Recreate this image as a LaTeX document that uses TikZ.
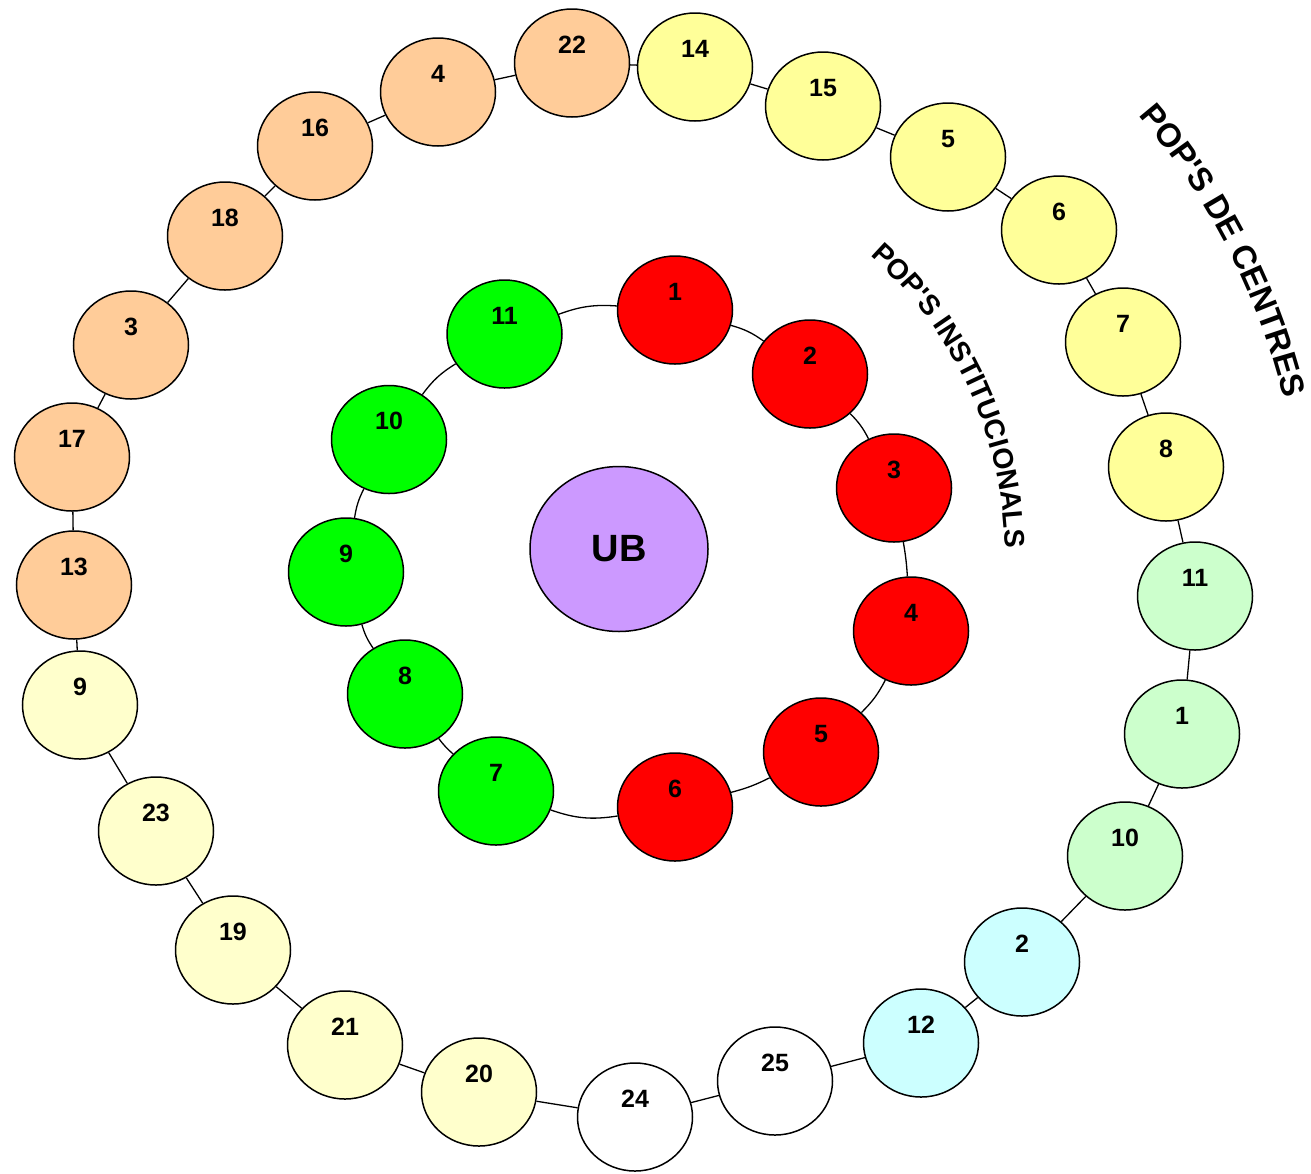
\documentclass[tikz,border=0pt]{standalone}
\usepackage{fontspec}
\setmainfont{Liberation Sans}[Ligatures=TeXOff]
\usetikzlibrary{shapes.geometric,decorations.text}
\definecolor{peach}{HTML}{FFCC99}
\definecolor{popyellow}{HTML}{FFFF99}
\definecolor{paleyellow}{HTML}{FFFFCC}
\definecolor{lightgreen}{HTML}{CCFFCC}
\definecolor{lightcyan}{HTML}{CCFFFF}
\definecolor{popred}{HTML}{FF0000}
\definecolor{popgreen}{HTML}{00FF00}
\definecolor{purple}{HTML}{CC99FF}
\begin{document}
\begin{tikzpicture}[x=1pt,y=1pt,
  pop/.style={ellipse, draw=black, line width=1.5pt, minimum width=115pt, minimum height=108pt,
    inner sep=0pt, font=\bfseries\fontsize{25}{30}\selectfont, text height=18pt, text depth=38pt},
  link/.style={line width=1.3pt},
  ubnode/.style={ellipse, draw=black, line width=1.5pt, fill=purple, minimum width=178pt,
    minimum height=165pt, inner sep=0pt, font=\bfseries\fontsize{38}{44}\selectfont}]
\useasboundingbox (0,0) rectangle (1311,-1173);

% centre
\node[ubnode] (ub) at (619,-549) {UB};

% inner ring
\node[pop, fill=popred] (i1) at (675,-310) {1};
\node[pop, fill=popred] (i2) at (810,-374) {2};
\node[pop, fill=popred] (i3) at (894,-488) {3};
\node[pop, fill=popred] (i4) at (911,-631) {4};
\node[pop, fill=popred] (i5) at (821,-752) {5};
\node[pop, fill=popred] (i6) at (675,-807) {6};
\node[pop, fill=popgreen] (i7) at (496,-791) {7};
\node[pop, fill=popgreen] (i8) at (405,-694) {8};
\node[pop, fill=popgreen] (i9) at (346,-572) {9};
\node[pop, fill=popgreen] (i10) at (389,-439.5) {10};
\node[pop, fill=popgreen] (i11) at (504.5,-334) {11};

\draw[link] (i1) to[bend left=10] (i2);
\draw[link] (i2) to[bend left=9] (i3);
\draw[link] (i3) to[bend left=3] (i4);
\draw[link] (i4) to[bend left=9] (i5);
\draw[link] (i5) to[bend left=6] (i6);
\draw[link] (i6) to[bend left=14] (i7);
\draw[link] (i7) to[bend left=6] (i8);
\draw[link] (i8) to[bend left=9] (i9);
\draw[link] (i9) to[bend left=9] (i10);
\draw[link] (i10) to[bend left=11] (i11);
\draw[link] (i11) to[bend left=12] (i1);

% outer ring
\node[pop, fill=peach] (o22) at (572,-63) {22};
\node[pop, fill=popyellow] (o14) at (695,-67) {14};
\node[pop, fill=popyellow] (o15) at (823,-106) {15};
\node[pop, fill=popyellow] (o5) at (948,-157) {5};
\node[pop, fill=popyellow] (o6) at (1059,-230) {6};
\node[pop, fill=popyellow] (o7) at (1123,-342) {7};
\node[pop, fill=popyellow] (o8) at (1166,-467) {8};
\node[pop, fill=lightgreen] (o11) at (1195,-596) {11};
\node[pop, fill=lightgreen] (o1) at (1182,-734) {1};
\node[pop, fill=lightgreen] (o10) at (1125,-856) {10};
\node[pop, fill=lightcyan] (o2) at (1022,-962) {2};
\node[pop, fill=lightcyan] (o12) at (921,-1043) {12};
\node[pop, fill=white] (o25) at (775,-1081) {25};
\node[pop, fill=white] (o24) at (635,-1117) {24};
\node[pop, fill=paleyellow] (o20) at (479,-1092) {20};
\node[pop, fill=paleyellow] (o21) at (345,-1045) {21};
\node[pop, fill=paleyellow] (o19) at (233,-950) {19};
\node[pop, fill=paleyellow] (o23) at (156,-831) {23};
\node[pop, fill=paleyellow] (o9) at (80,-705) {9};
\node[pop, fill=peach] (o13) at (74,-585) {13};
\node[pop, fill=peach] (o17) at (72,-457) {17};
\node[pop, fill=peach] (o3) at (131,-345) {3};
\node[pop, fill=peach] (o18) at (225,-236) {18};
\node[pop, fill=peach] (o16) at (315,-146) {16};
\node[pop, fill=peach] (o4) at (438,-92) {4};

\foreach \a/\b in {o22/o14,o14/o15,o15/o5,o5/o6,o6/o7,o7/o8,o8/o11,o11/o1,o1/o10,o10/o2,
  o2/o12,o12/o25,o25/o24,o24/o20,o20/o21,o21/o19,o19/o23,o23/o9,o9/o13,o13/o17,o17/o3,
  o3/o18,o18/o16,o16/o4,o4/o22}
  \draw[link] (\a) -- (\b);

% curved titles
\coordinate (cout) at (620,-560);
\coordinate (cin) at (605,-555);
\path[decorate, decoration={text along path, text align=center,
  text format delimiters={|}{|},
  text={|\bfseries\fontsize{33}{40}\selectfont|POP'S DE CENTRES}}]
  (cout) ++(64:683) arc[start angle=64, end angle=-9.7, radius=683];
\path[decorate, decoration={text along path, text align=center,
  text format delimiters={|}{|},
  text={|\bfseries\fontsize{28.4}{34}\selectfont|POP'S INSTITUCIONALS}}]
  (cin) ++(70:400) arc[start angle=70, end angle=-20.5, radius=400];
\end{tikzpicture}
\end{document}
